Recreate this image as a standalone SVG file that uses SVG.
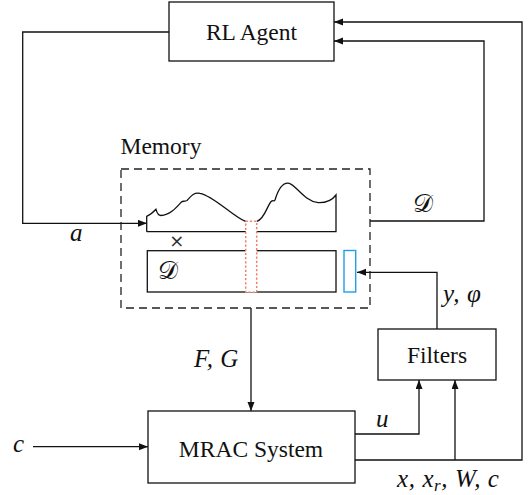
<svg xmlns="http://www.w3.org/2000/svg" width="528" height="495" viewBox="0 0 528 495">
<style>
.box{fill:#fff;stroke:#111;stroke-width:1.3}
.ln{fill:none;stroke:#111;stroke-width:1.3}
.lbl{font-family:'Liberation Serif','DejaVu Serif',serif;font-size:23.5px;fill:#111}
.m{font-family:'Liberation Serif','DejaVu Serif',serif;font-style:italic;font-size:25px;letter-spacing:0.6px;fill:#111}
.cal{font-family:'Liberation Serif','DejaVu Serif','Noto Sans',serif;font-size:25px;fill:#111}
</style>
<defs>
<marker id="ah" markerUnits="userSpaceOnUse" markerWidth="10" markerHeight="8" refX="9" refY="3.5" orient="auto">
<path d="M0,0 L9,3.5 L0,7 z" fill="#111"/>
</marker>
</defs>
<rect width="528" height="495" fill="#fff"/>
<g id="connectors">
<path class="ln" d="M169,32 H22.7 V223.3 H147" marker-end="url(#ah)"/>
<path class="ln" d="M370,221 H484 V41 H334" marker-end="url(#ah)"/>
<path class="ln" d="M355,460 H522 V22 H334" marker-end="url(#ah)"/>
<path class="ln" d="M455,460 V380" marker-end="url(#ah)"/>
<path class="ln" d="M355,434 H419 V380" marker-end="url(#ah)"/>
<path class="ln" d="M437,329 V272.3 H357" marker-end="url(#ah)"/>
<path class="ln" d="M251,308 V411" marker-end="url(#ah)"/>
<path class="ln" d="M33,446.7 H148" marker-end="url(#ah)"/>
<text class="m" x="70" y="241">a</text>
<text class="cal" x="413" y="212">𝒟</text>
<text class="m" x="194" y="367">F, G</text>
<text class="m" x="376" y="427">u</text>
<text class="m" x="443" y="302">y, φ</text>
<text class="m" x="397" y="487">x, x<tspan font-size="17" dy="4">r</tspan><tspan dy="-4">, W, c</tspan></text>
<text class="m" x="13" y="452">c</text>
</g>
<g id="rl-agent">
<rect class="box" x="169" y="2" width="165" height="59"/>
<text class="lbl" x="251.5" y="40" text-anchor="middle">RL Agent</text>
</g>
<g id="memory">
<text class="lbl" x="120.5" y="154">Memory</text>
<rect x="121" y="169" width="249" height="139" fill="none" stroke="#222" stroke-width="1.3" stroke-dasharray="8,5"/>
<path class="ln" d="M146.7,231.7 V216.3 C150,215 153.5,212 156,209.3 C157,213 158,215.5 161,215.5 C170,215 176,208 181.7,201.7 C183,201 185,201.5 187,200.5 C191,196 194,192 200,193.3 C214,196 232,216 246,221.7 M256.7,221.5 C265,219 267,205 271.7,201 C273,200 274,202 275,200 C278,190 283,182 289.3,183.3 C296,185 304,201 318.3,202.7 C327,203 333,199 336,195 V231.7 H146.7"/>
<rect class="box" x="147.3" y="250.7" width="188.7" height="41.3"/>
<text class="cal" x="158" y="279">𝒟</text>
<text x="176.7" y="247" font-family="DejaVu Sans,sans-serif" font-size="18" fill="#333" text-anchor="middle">×</text>
<rect x="245.7" y="221.3" width="11" height="71" fill="#fff" stroke="#f08070" stroke-width="1.5" stroke-dasharray="2.2,2"/>
<rect x="344" y="250.5" width="11.7" height="41.5" fill="#fff" stroke="#1ea0e6" stroke-width="1.4"/>
</g>
<g id="mrac">
<rect class="box" x="148" y="411" width="207" height="72"/>
<text class="lbl" x="251" y="457" text-anchor="middle">MRAC System</text>
</g>
<g id="filters">
<rect class="box" x="378" y="329" width="118" height="51"/>
<text class="lbl" x="437" y="363" text-anchor="middle">Filters</text>
</g>
</svg>
